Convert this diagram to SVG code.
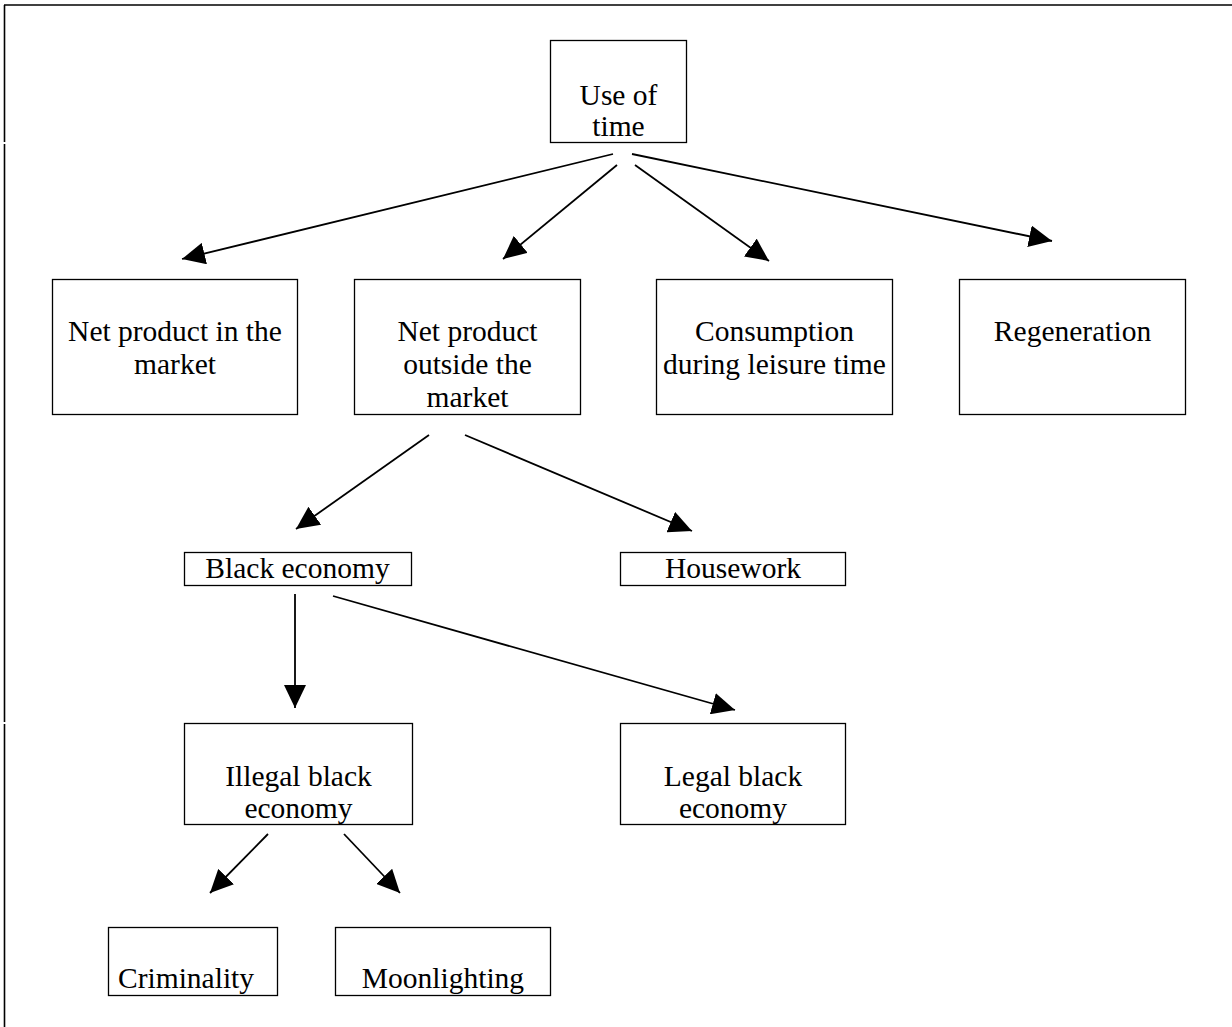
<svg xmlns="http://www.w3.org/2000/svg" width="1232" height="1027" viewBox="0 0 1232 1027">
  <style>
    .box { fill: #fff; stroke: #000; stroke-width: 1.3; }
    .lbl { font-family: "Liberation Serif", "Times New Roman", serif; font-size: 29.5px; fill: #000; text-anchor: middle; }
    .edge { stroke: #000; stroke-width: 1.8; fill: none; marker-end: url(#head); }
    .frame { stroke: #000; stroke-width: 1.6; }
  </style>
  <defs>
    <marker id="head" markerUnits="userSpaceOnUse" markerWidth="23" markerHeight="22" refX="23" refY="11" orient="auto">
      <path d="M0,0 L23,11 L0,22 Z" fill="#000"/>
    </marker>
  </defs>
  <rect width="1232" height="1027" fill="#fff"/>

  <!-- page frame -->
  <g id="frame">
    <line class="frame" x1="4" y1="5" x2="1232" y2="5"/>
    <line class="frame" x1="4.5" y1="5" x2="4.5" y2="142"/>
    <line class="frame" x1="4.5" y1="144" x2="4.5" y2="722"/>
    <line class="frame" x1="4.5" y1="724" x2="4.5" y2="1027"/>
  </g>

  <!-- connectors -->
  <g id="connectors">
    <line class="edge" x1="613" y1="154" x2="182" y2="259"/>
    <line class="edge" x1="617" y1="165" x2="503" y2="259"/>
    <line class="edge" x1="635" y1="165" x2="769" y2="261"/>
    <line class="edge" x1="632" y1="154" x2="1052" y2="241"/>
    <line class="edge" x1="429" y1="435" x2="296" y2="529"/>
    <line class="edge" x1="465" y1="435" x2="692" y2="531"/>
    <line class="edge" x1="295" y1="594" x2="295" y2="708"/>
    <line class="edge" x1="333" y1="596" x2="735" y2="710"/>
    <line class="edge" x1="268" y1="834" x2="210" y2="893"/>
    <line class="edge" x1="344" y1="834" x2="400" y2="893"/>
  </g>

  <g id="use-of-time">
    <rect class="box" x="550.5" y="40.5" width="136" height="102"/>
    <text class="lbl" x="618.5" y="105">Use of</text>
    <text class="lbl" x="618.5" y="136">time</text>
  </g>

  <g id="net-product-market">
    <rect class="box" x="52.5" y="279.5" width="245" height="135"/>
    <text class="lbl" x="175" y="341">Net product in the</text>
    <text class="lbl" x="175" y="374">market</text>
  </g>

  <g id="net-product-outside">
    <rect class="box" x="354.5" y="279.5" width="226" height="135"/>
    <text class="lbl" x="467.5" y="341">Net product</text>
    <text class="lbl" x="467.5" y="374">outside the</text>
    <text class="lbl" x="467.5" y="407">market</text>
  </g>

  <g id="consumption">
    <rect class="box" x="656.5" y="279.5" width="236" height="135"/>
    <text class="lbl" x="774.5" y="341">Consumption</text>
    <text class="lbl" x="774.5" y="374">during leisure time</text>
  </g>

  <g id="regeneration">
    <rect class="box" x="959.5" y="279.5" width="226" height="135"/>
    <text class="lbl" x="1072.5" y="341">Regeneration</text>
  </g>

  <g id="black-economy">
    <rect class="box" x="184.5" y="552.5" width="227" height="33"/>
    <text class="lbl" x="297.5" y="578">Black economy</text>
  </g>

  <g id="housework">
    <rect class="box" x="620.5" y="552.5" width="225" height="33"/>
    <text class="lbl" x="733" y="578">Housework</text>
  </g>

  <g id="illegal-black-economy">
    <rect class="box" x="184.5" y="723.5" width="228" height="101"/>
    <text class="lbl" x="298.5" y="786">Illegal black</text>
    <text class="lbl" x="298.5" y="818">economy</text>
  </g>

  <g id="legal-black-economy">
    <rect class="box" x="620.5" y="723.5" width="225" height="101"/>
    <text class="lbl" x="733" y="786">Legal black</text>
    <text class="lbl" x="733" y="818">economy</text>
  </g>

  <g id="criminality">
    <rect class="box" x="108.5" y="927.5" width="169" height="68"/>
    <text class="lbl" x="118" y="988" style="text-anchor:start">Criminality</text>
  </g>

  <g id="moonlighting">
    <rect class="box" x="335.5" y="927.5" width="215" height="68"/>
    <text class="lbl" x="443" y="988">Moonlighting</text>
  </g>
</svg>
